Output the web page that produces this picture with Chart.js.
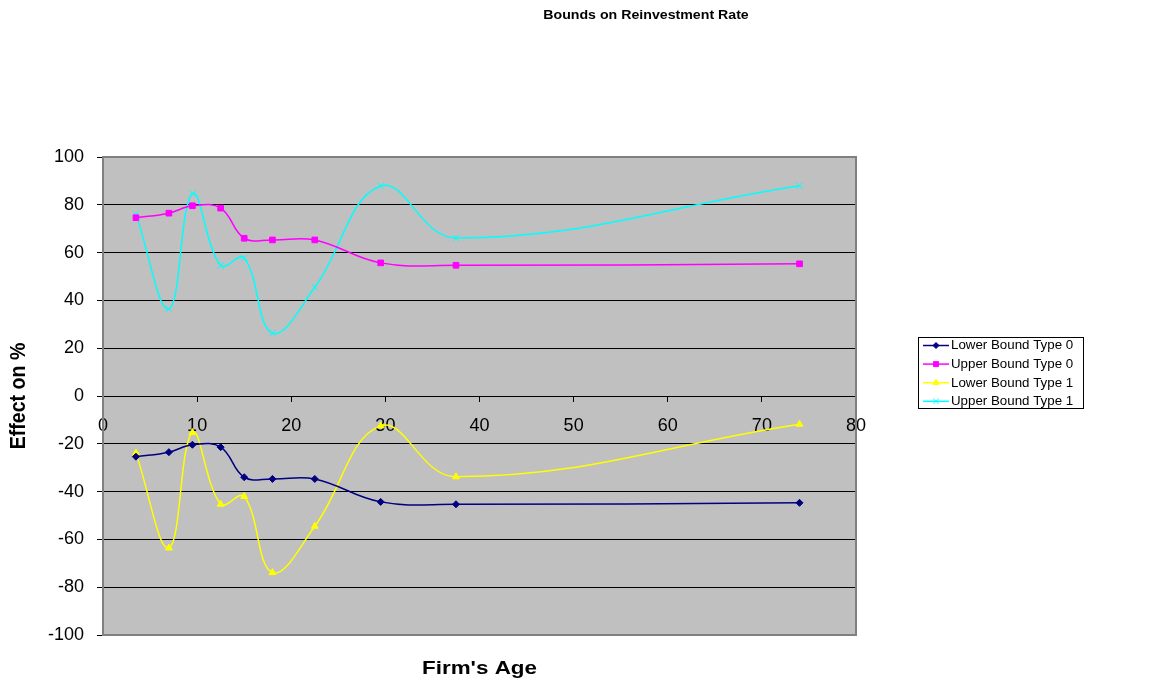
<!DOCTYPE html>
<html>
<head>
<meta charset="utf-8">
<script src="https://cdn.jsdelivr.net/npm/chart.js@4/dist/chart.umd.min.js"></script>
<style>
  html, body { margin: 0; padding: 0; background: #ffffff; }
  #wrap { width: 1151px; height: 686px; position: relative; }
</style>
</head>
<body>
<div id="wrap"><canvas id="c" width="1151" height="686"></canvas></div>
<script>
// Firm age (years) at which each bound was estimated
const ages = [3.5, 7, 9.5, 12.5, 15, 18, 22.5, 29.5, 37.5, 74];

// Effect on reinvestment rate, in percent
const lowerType0 = [-25.4, -23.5, -20.4, -21.4, -34.0, -34.7, -34.7, -44.3, -45.3, -44.7];
const upperType0 = [74.6, 76.5, 79.6, 78.6, 66.0, 65.3, 65.3, 55.7, 54.7, 55.3];
const lowerType1 = [-23.9, -63.6, -15.3, -45.3, -42.0, -73.9, -54.5, -12.5, -33.8, -11.8];
const upperType1 = [76.1, 36.4, 84.7, 54.6, 57.8, 26.3, 45.5, 87.9, 66.1, 88.0];

const seriesNames = ['Lower Bound Type 0', 'Upper Bound Type 0', 'Lower Bound Type 1', 'Upper Bound Type 1'];
const xTicks = [0, 10, 20, 30, 40, 50, 60, 70, 80];
const yTicks = [-100, -80, -60, -40, -20, 0, 20, 40, 60, 80, 100];

const chartTitle = 'Bounds on Reinvestment Rate';
const xTitle = "Firm's Age";
const yTitle = 'Effect on %';

const FONT = '"Liberation Sans", Arial, sans-serif';

function pts(ys) { return ages.map((a, i) => ({ x: a, y: ys[i] })); }

function series(label, ys, color, style, radius) {
  return {
    label: label,
    data: pts(ys),
    borderColor: color,
    backgroundColor: color,
    pointBackgroundColor: color,
    pointBorderColor: color,
    pointStyle: style,
    pointRadius: radius,
    pointBorderWidth: 1,
    borderWidth: 1.5,
    tension: 0.4,
    fill: false
  };
}

const datasets = [
  series(seriesNames[0], lowerType0, '#000080', 'rectRot', 3.5),
  series(seriesNames[1], upperType0, '#FF00FF', 'rect', 4),
  series(seriesNames[2], lowerType1, '#FFFF00', 'triangle', 4),
  series(seriesNames[3], upperType1, '#00FFFF', 'crossRot', 4.5)
];

// text drawn slightly widened, like the rest of the figure's lettering
function wideText(ctx, text, x, y, sx, sy) {
  ctx.save();
  ctx.translate(x, y);
  ctx.scale(sx, sy);
  ctx.fillText(text, 0, 0);
  ctx.restore();
}

// Grey plot area, its border, titles and the boxed legend
const decor = {
  id: 'decor',
  beforeDraw(chart) {
    const a = chart.chartArea, ctx = chart.ctx;
    ctx.save();
    ctx.fillStyle = '#C0C0C0';
    ctx.fillRect(a.left, a.top, a.right - a.left, a.bottom - a.top);
    ctx.restore();
  },
  afterDraw(chart) {
    const a = chart.chartArea, ctx = chart.ctx;
    ctx.save();
    ctx.strokeStyle = '#808080';
    ctx.lineWidth = 2;
    ctx.strokeRect(a.left, a.top, a.right - a.left, a.bottom - a.top);

    ctx.fillStyle = '#000';
    ctx.textAlign = 'center';
    ctx.textBaseline = 'middle';
    ctx.font = 'bold 13px ' + FONT;
    wideText(ctx, chartTitle, 646, 15, 1.09, 1);

    ctx.font = 'bold 19px ' + FONT;
    wideText(ctx, xTitle, (a.left + a.right) / 2, 669, 1.18, 1);

    ctx.save();
    ctx.translate(19, (a.top + a.bottom) / 2);
    ctx.rotate(-Math.PI / 2);
    ctx.scale(1.03, 1.12);
    ctx.fillText(yTitle, 0, 0);
    ctx.restore();

    // legend
    const lx = 918, ly = 337, lw = 165, lh = 71;
    ctx.fillStyle = '#fff';
    ctx.fillRect(lx, ly, lw, lh);
    ctx.strokeStyle = '#000';
    ctx.lineWidth = 1;
    ctx.strokeRect(lx + 0.5, ly + 0.5, lw, lh);
    ctx.font = '12px ' + FONT;
    ctx.textAlign = 'left';
    chart.data.datasets.forEach((ds, i) => {
      const y = ly + 8.5 + i * 18.6;
      ctx.strokeStyle = ds.borderColor;
      ctx.lineWidth = 1.5;
      ctx.beginPath();
      ctx.moveTo(lx + 5, y);
      ctx.lineTo(lx + 31, y);
      ctx.stroke();
      ctx.fillStyle = ds.borderColor;
      ctx.strokeStyle = ds.borderColor;
      ctx.lineWidth = 1;
      Chart.helpers.drawPoint(ctx, {
        pointStyle: ds.pointStyle,
        radius: ds.pointRadius - 0.5,
        rotation: 0,
        borderWidth: 1
      }, lx + 18, y);
      ctx.fillStyle = '#000';
      wideText(ctx, ds.label, lx + 33, y + 0.5, 1.11, 1);
    });
    ctx.restore();
  }
};

new Chart(document.getElementById('c'), {
  type: 'line',
  data: { datasets: datasets },
  plugins: [decor],
  options: {
    responsive: false,
    animation: false,
    devicePixelRatio: 1,
    layout: { padding: { top: 157, right: 295, bottom: 51, left: 0 } },
    plugins: {
      legend: { display: false },
      title: { display: false },
      tooltip: { enabled: false }
    },
    scales: {
      x: {
        type: 'linear',
        position: { y: 0 },
        min: 0, max: 80,
        afterBuildTicks(scale) { scale.ticks = xTicks.map(v => ({ value: v })); },
        ticks: {
          color: '#000',
          font: { family: FONT, size: 18 },
          padding: 14,
          maxRotation: 0
        },
        grid: {
          display: true,
          drawOnChartArea: false,
          drawTicks: true,
          tickLength: 5,
          color: '#000'
        },
        border: { display: true, color: '#000', width: 1 }
      },
      y: {
        type: 'linear',
        min: -100, max: 100,
        afterBuildTicks(scale) { scale.ticks = yTicks.map(v => ({ value: v })); },
        afterFit(scale) { scale.width = 103; },
        ticks: {
          color: '#000',
          font: { family: FONT, size: 18 },
          padding: 13
        },
        grid: {
          color: ctx => (ctx.tick && Math.abs(ctx.tick.value) === 100) ? 'rgba(0,0,0,0)' : '#000',
          tickColor: '#000',
          lineWidth: 1,
          tickLength: 6
        },
        border: { display: true, color: '#808080', width: 2 }
      }
    }
  }
});
</script>
</body>
</html>
